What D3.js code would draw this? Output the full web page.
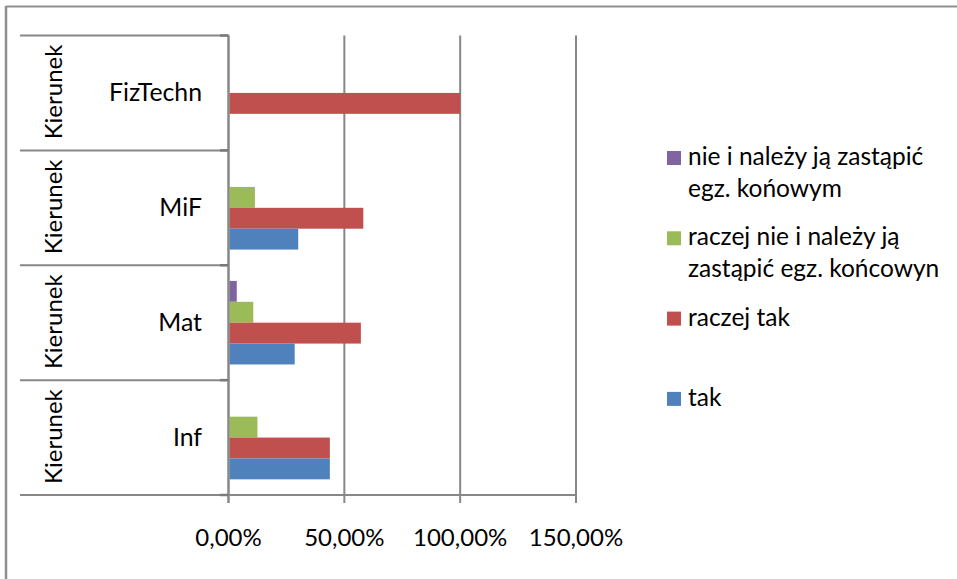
<!DOCTYPE html>
<html><head><meta charset="utf-8">
<script src="https://cdn.jsdelivr.net/npm/d3@7"></script>
<style>
html,body{margin:0;padding:0;background:#fff;}
svg{display:block;}
text{font-family:Lato,"Open Sans",sans-serif;fill:#000;}
</style></head>
<body>
<svg id="chart" width="957" height="579"></svg>
<script>
const categories = ["FizTechn", "MiF", "Mat", "Inf"];
const axisTitle = "Kierunek";
const seriesNames = ["nie i należy ją zastąpić egz. końowym", "raczej nie i należy ją zastąpić egz. końcowyn", "raczej tak", "tak"];
const legendLines = [["nie i należy ją zastąpić", "egz. końowym"], ["raczej nie i należy ją", "zastąpić egz. końcowyn"], ["raczej tak"], ["tak"]];
const nieValues = [0, 0, 3.57, 0];
const raczejNieValues = [0, 11.4, 10.71, 12.5];
const raczejTakValues = [100, 58.2, 57.14, 43.75];
const takValues = [0, 30.1, 28.57, 43.75];
const tickValues = [0, 50, 100, 150];
const tickLabels = ["0,00%", "50,00%", "100,00%", "150,00%"];
const colors = ["#8064A2", "#9BBB59", "#C0504D", "#4F81BD"];

const seriesValues = [nieValues, raczejNieValues, raczejTakValues, takValues];

const svg = d3.select("#chart");
const gridColor = "#878787";

// outer border (top & left visible)
svg.append("line").attr("x1", 6).attr("x2", 957).attr("y1", 6.5).attr("y2", 6.5).attr("stroke", "#8f8f8f").attr("stroke-width", 2);
svg.append("line").attr("x1", 6).attr("x2", 6).attr("y1", 6).attr("y2", 579).attr("stroke", "#8f8f8f").attr("stroke-width", 2.5);

const x = d3.scaleLinear().domain([0, 150]).range([228.5, 576]);
const y = d3.scaleBand().domain(categories).range([35.5, 495]).padding(0);
const yInner = d3.scaleBand().domain(d3.range(4)).range([0, y.bandwidth()]).paddingInner(0).paddingOuter(0.75);

// vertical gridlines + ticks
svg.append("g").selectAll("line").data(tickValues).join("line")
  .attr("x1", d => x(d)).attr("x2", d => x(d))
  .attr("y1", 35.5).attr("y2", 503)
  .attr("stroke", gridColor).attr("stroke-width", 2);

// category boundary lines (left table)
const bounds = categories.map(c => y(c)).concat([y.range()[1]]);
svg.append("g").selectAll("line").data(bounds).join("line")
  .attr("x1", 20).attr("x2", (d, i) => i === bounds.length - 1 ? x(150) : x(0))
  .attr("y1", d => d).attr("y2", d => d)
  .attr("stroke", gridColor).attr("stroke-width", 2);

// bars
const rows = [];
categories.forEach((c, ci) => {
  seriesValues.forEach((vals, si) => {
    rows.push({c, si, v: vals[ci]});
  });
});
svg.append("g").selectAll("rect").data(rows.filter(d => d.v > 0)).join("rect")
  .attr("x", x(0) + 1)
  .attr("y", d => y(d.c) + yInner(d.si))
  .attr("width", d => x(d.v) - x(0) - 1)
  .attr("height", yInner.bandwidth())
  .attr("fill", d => colors[d.si]);

// axis line (on top)
svg.append("line").attr("x1", x(0)).attr("x2", x(0)).attr("y1", 35.5).attr("y2", 503)
  .attr("stroke", gridColor).attr("stroke-width", 2);
// outward category ticks
svg.append("g").selectAll("line").data(bounds).join("line")
  .attr("x1", 220).attr("x2", x(0)).attr("y1", d => d).attr("y2", d => d)
  .attr("stroke", "#7a7a7a").attr("stroke-width", 2.5);

// category labels
svg.append("g").selectAll("text").data(categories).join("text")
  .attr("x", 202).attr("y", d => y(d) + y.bandwidth() / 2 + 8)
  .attr("text-anchor", "end").attr("font-size", 24.8).text(d => d);

// axis title per row
svg.append("g").selectAll("text").data(categories).join("text")
  .attr("transform", d => `translate(62,${y(d) + y.bandwidth() / 2 - 1}) rotate(-90)`)
  .attr("text-anchor", "middle").attr("font-size", 24).text(axisTitle);

// tick labels
svg.append("g").selectAll("text").data(tickValues).join("text")
  .attr("x", d => x(d)).attr("y", 546)
  .attr("text-anchor", "middle").attr("font-size", 24)
  .text((d, i) => tickLabels[i]);

// legend
const lg = svg.append("g").selectAll("g").data(seriesNames).join("g")
  .attr("transform", (d, i) => `translate(667,${151 + i * 80.3})`);
lg.append("rect").attr("width", 14).attr("height", 14).attr("fill", (d, i) => colors[i]);
lg.each(function(d, i) {
  const t = d3.select(this).append("text").attr("x", 21).attr("y", 14).attr("font-size", 24.5);
  legendLines[i].forEach((line, li) => {
    t.append("tspan").attr("x", 21).attr("y", 14 + li * 31.7).text(line);
  });
});
</script>
</body></html>
